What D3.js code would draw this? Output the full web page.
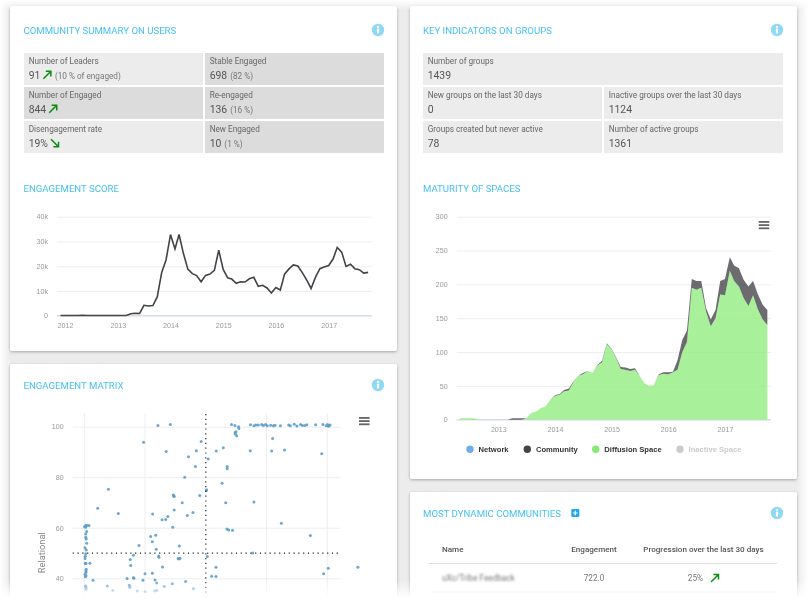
<!DOCTYPE html>
<html>
<head>
<meta charset="utf-8">
<script src="https://cdnjs.cloudflare.com/ajax/libs/d3/7.8.5/d3.min.js"></script>
<style>
  html, body { margin: 0; padding: 0; background: #fff; overflow: hidden; }
  svg { display: block; filter: blur(0.4px); font-family: Roboto, sans-serif; }
  .title { fill: #45c1f5; font-size: 9.6px; }
  .cell-label { fill: #666; font-size: 8.2px; }
  .cell-value { fill: #555; font-size: 10.4px; }
  .cell-note { fill: #777; font-size: 8.2px; }
  .axis text { fill: #999; font-size: 7.1px; font-family: "Liberation Sans", sans-serif; }
  .axis .domain { display: none; }
  .grid line { stroke: #eeeeee; stroke-width: 1; }
  .legend text { font-size: 7.6px; font-weight: bold; font-family: "Liberation Sans", sans-serif; }
  .head { fill: #555; font-size: 8.1px; font-weight: 500; }
  .row { fill: #777; font-size: 8.2px; }
</style>
</head>
<body>
<div id="chart"></div>
<script>
// stat tables
var userLabels = ['Number of Leaders', 'Stable Engaged', 'Number of Engaged', 'Re-engaged', 'Disengagement rate', 'New Engaged'];
var userValues = ['91', '698', '844', '136', '19%', '10'];
var userNotes = ['(10 % of engaged)', '(82 %)', '', '(16 %)', '', '(1 %)'];
var userTrends = ['up', '', 'up', '', 'down', ''];

var groupLabels = ['New groups on the last 30 days', 'Inactive groups over the last 30 days', 'Groups created but never active', 'Number of active groups'];
var groupValues = ['0', '1124', '78', '1361'];
var groupTotalLabel = 'Number of groups';
var groupTotalValue = '1439';

// engagement score, monthly from Dec 2011
var engagementScore = [
  0.1,
  0.1, 0.1, 0.1, 0.1, 0.15, 0.1, 0.1, 0.1, 0.1, 0.1, 0.1, 0.1,
  0.1, 0.1, 0.1, 0.8, 1.0, 0.9, 4.2, 3.9, 4.1, 7.6, 17.5, 22.5,
  32.8, 27, 32.8, 25, 18.8, 17, 16.2, 13.7, 16.3, 16.8, 18.3, 26.5,
  18.7, 15.3, 14.8, 13.1, 13.7, 13.6, 14.9, 15.5, 11.9, 12.3, 11.2, 9.2,
  11.4, 10.4, 16.8, 18.9, 20.5, 20.1, 17.5, 14.5, 11, 15.5, 19, 19.7,
  20.3, 23, 27.6, 25.7, 19.9, 20.8, 19, 18.6, 17.2, 17.5
];
var engagementTicks = [0, 10000, 20000, 30000, 40000];

// maturity of spaces, monthly from May 2012
var diffusionSpaces = [
  2, 2, 2, 2, 0, 0, 0, 0,
  0, 0, 0, 0, 0, 0, 2, 10, 12, 17, 20, 29,
  35, 37, 42, 43, 56, 65, 67, 72, 69, 80, 85, 112,
  104, 90, 75, 74, 72, 74, 65, 54, 50, 51, 66, 68,
  67, 70, 74, 100, 115, 195, 192, 195, 160, 138, 150, 185,
  184, 220, 205, 197, 180, 168, 184, 163, 148, 140
];
var communitySpaces = [
  0, 0, 0, 0, 0, 0, 0, 0,
  0, 0, 0, 2, 2, 2, 0, 0, 0, 0, 0, 0,
  1, 1, 2, 3, 1, 0, 2, 0, 0, 1, 2, 1,
  1, 1, 3, 3, 3, 2, 0, 0, 0, 0, 1, 2,
  3, 1, 14, 18, 17, 13, 13, 10, 5, 10, 12, 20,
  24, 20, 23, 27, 27, 29, 21, 22, 22, 22
];
var networkSpaces = [
  0, 0, 0, 0, 0, 0, 0, 0,
  0, 0, 0, 0, 0, 0, 0, 0, 0, 0, 0, 0,
  0, 0, 0, 0, 0, 0, 0, 0, 0, 0, 0, 0,
  0, 0, 0, 0, 0, 0, 0, 0, 0, 0, 0, 0,
  0, 0, 0, 0, 0, 0, 0, 0, 0, 0, 0, 0,
  0, 0, 0, 0, 0, 0, 1, 1, 0, 0
];
var maturityTicks = [0, 50, 100, 150, 200, 250, 300];
var legendNames = ['Network', 'Community', 'Diffusion Space', 'Inactive Space'];

// engagement matrix
var matrixX = [
  30.3, 35.4, 24.4, 33.7, 48.1, 46.1, 42.9, 45.7, 41.3, 9.9, 5.5, 14, 36.8, 36.6, 37, 47.5, 40.3, 37, 28.1, 34.4,
  32, 33.5, 42.4, 44.7, 36.4, 27.3, 29.4, 28, 22.5, 39.1, 29.6, 20.2, 18.9, 19.1, 30.6, 30.7, 38.6, 39, 39.4, 32.2,
  25, 28, 17.6, 20.4, 20.2, 24.1, 29.1, 29.8, 36.2, 41.7, 32.9, 3.6, 9.5, 18.5, 18.8, 18.6, 11.7, 21.8, 25, 29, 29.8, 44.9,
  0.1, 0.6, 1.1, 1.9, 0.5, 1.0, 0.6, 0.6, 0.8, 1.0, 0.3, 0.8, 0.6, 0.4, 0.3, 0.7, 0.4, 2.3, 0.8, 0.7, 0.7, 0.3, 0.7, 0.4, 0.5, 0.7, 0.7,
  51, 54.3, 57.2, 68.3, 77.1, 82.4, 97.7, 77.5, 58.8, 58.8, 56.7, 50.3, 50.2, 58.2, 69.8, 81.1, 58.7, 59.4, 61, 93, 69.3, 50.6, 54.2, 52.4, 54.2, 98.5, 100.4, 112.6,
  60.6, 62, 63.5, 63.6, 62.1, 62.4, 62.1, 62.7,
  68.4, 69.8, 70.6, 71.6, 73, 73.7, 74.6, 75.3, 76.7, 77.8, 78.5, 80.7, 84.1, 84.8, 86.4, 87.5, 89, 89.8, 90.8, 91.6, 95.2, 98.2, 99.5, 100.1, 100.7, 101.1, 100.4
];
var matrixY = [
  100.5, 100.9, 93.8, 90.2, 94.1, 90.5, 88.1, 84.2, 80, 75.2, 67.7, 65.6, 72.7, 73, 72.4, 72.8, 69.9, 67, 65.4, 64.5,
  63.2, 63.3, 64.9, 66, 60.2, 56.5, 57, 54.5, 53, 52.8, 51.5, 49.1, 47.4, 45.1, 48.8, 48.3, 47.8, 47.6, 47.9, 44.5,
  41.8, 42, 39.9, 40, 40.2, 39.2, 39.3, 38.1, 37.8, 38.7, 36.8, 39.2, 37, 37.2, 36.4, 36.8, 35.2, 35, 34.7, 35, 35.2, 35.9,
  60.4, 60.9, 60.9, 60.9, 60.2, 58.5, 57.5, 56.2, 55.6, 53.9, 52.1, 51.2, 49.7, 48.7, 47.8, 45.9, 46, 46, 43.6, 42.9, 42.3, 41.6, 41, 40.6, 37, 36.5, 35.7,
  87.2, 90.4, 91.7, 90.5, 90.4, 90.8, 89.3, 95.3, 84.2, 83.4, 77.6, 75, 74.7, 69.9, 70.2, 61.8, 59.5, 59.1, 59, 56.9, 50, 48.6, 44.4, 40.8, 40.7, 41.8, 44, 44.4,
  100.9, 100.5, 100, 99.3, 97.6, 98, 97.1, 96.4,
  100.8, 100.4, 100.7, 100.7, 100.9, 100.5, 100.9, 100.4, 100.6, 100.4, 100.6, 100.4, 100.7, 100.4, 101, 100.3, 100.9, 100.5, 100.5, 100.8, 100.8, 100.9, 100.4, 100.9, 100.3, 100.7, 100.3
];
var matrixTicksY = [40, 60, 80, 100];
var matrixTicksX = [0, 25, 75, 100];

// most dynamic communities
var tableHeads = ['Name', 'Engagement', 'Progression over the last 30 days'];
var tableName = 'uXc/Tribe Feedback';
var tableEngagement = '722.0';
var tableProgress = '25%';

var svg = d3.select('#chart').append('svg').attr('width', 808).attr('height', 602);
var defs = svg.append('defs');

defs.append('filter').attr('id', 'shadow').attr('x', '-5%').attr('y', '-5%').attr('width', '110%').attr('height', '110%')
  .append('feDropShadow').attr('dx', 0).attr('dy', 1).attr('stdDeviation', 1.6).attr('flood-color', '#000').attr('flood-opacity', 0.3);
defs.append('filter').attr('id', 'smudge').append('feGaussianBlur').attr('stdDeviation', 1.3);

function fade(id, x1, y1, x2, y2) {
  var g = defs.append('linearGradient').attr('id', id).attr('x1', x1).attr('y1', y1).attr('x2', x2).attr('y2', y2);
  g.append('stop').attr('offset', 0).attr('stop-color', '#fff').attr('stop-opacity', 1);
  g.append('stop').attr('offset', 1).attr('stop-color', '#fff').attr('stop-opacity', 0);
}
fade('fadeLeft', 0, 0, 1, 0);
fade('fadeRight', 1, 0, 0, 0);
fade('fadeTop', 0, 0, 0, 1);
fade('fadeBottom', 0, 1, 0, 0);

svg.append('rect').attr('width', 808).attr('height', 602).attr('fill', '#ececec');

// cards
[[10, 6, 387, 345], [10, 364, 387, 260], [410, 6, 387, 473], [410, 492, 387, 130]].forEach(function(c) {
  svg.append('rect').attr('x', c[0]).attr('y', c[1]).attr('width', c[2]).attr('height', c[3])
    .attr('rx', 2).attr('fill', '#fff').attr('filter', 'url(#shadow)');
});

function title(text, x, y) {
  svg.append('text').attr('class', 'title').attr('x', x).attr('y', y + 3.6).text(text);
}
function infoIcon(x, y) {
  svg.append('circle').attr('cx', x).attr('cy', y).attr('r', 6.2).attr('fill', '#8fd8f6');
  svg.append('rect').attr('x', x - 1.1).attr('y', y - 1.2).attr('width', 2.2).attr('height', 4.6).attr('fill', '#fff');
  svg.append('circle').attr('cx', x).attr('cy', y - 3).attr('r', 1.2).attr('fill', '#fff');
}
function burger(x, y) {
  d3.range(3).forEach(function(i) {
    svg.append('rect').attr('x', x).attr('y', y + i * 3.2).attr('width', 10.6).attr('height', 1.8).attr('fill', '#666');
  });
}
function arrow(parent, x, y, dir) {
  // y is the text baseline
  var d = dir === 'up' ? 'M0,0 L7.5,-7.5 M2.4,-7.5 H7.5 V-2.4' : 'M0,-7.5 L7.5,0 M2.4,0 H7.5 V-5.1';
  parent.append('path').attr('transform', 'translate(' + x + ',' + y + ')').attr('d', d)
    .attr('fill', 'none').attr('stroke', '#0b8a12').attr('stroke-width', 1.5);
}

title('COMMUNITY SUMMARY ON USERS', 23.5, 30);
title('ENGAGEMENT SCORE', 23.5, 188);
title('ENGAGEMENT MATRIX', 23.5, 385);
title('KEY INDICATORS ON GROUPS', 423, 30);
title('MATURITY OF SPACES', 423, 188);
title('MOST DYNAMIC COMMUNITIES', 423, 513);
[[378, 30], [378, 385], [777, 30], [777, 513]].forEach(function(p) { infoIcon(p[0], p[1]); });

// stat cells
function statCell(x, y, w, h, fill, label, value, note, trend) {
  var g = svg.append('g').attr('transform', 'translate(' + x + ',' + y + ')');
  g.append('rect').attr('width', w).attr('height', h).attr('fill', fill);
  g.append('text').attr('class', 'cell-label').attr('x', 4.7).attr('y', 11.3).text(label);
  var v = g.append('text').attr('class', 'cell-value').attr('x', 4.7).attr('y', 26.3).text(value);
  var cursor = 4.7 + v.node().getComputedTextLength() + 3;
  if (trend) {
    arrow(g, cursor, 25.8, trend);
    cursor += 11.5;
  }
  if (note) {
    g.append('text').attr('class', 'cell-note').attr('x', cursor).attr('y', 26.3).text(note);
  }
}

var rowBand = d3.scaleBand().domain([0, 1, 2]).range([53, 153]).paddingInner(0.06);
var userCol = d3.scaleBand().domain([0, 1]).range([24, 384]).paddingInner(0.011);
var groupCol = d3.scaleBand().domain([0, 1]).range([423, 783]).paddingInner(0.011);

userLabels.forEach(function(label, i) {
  var light = i === 0 || i === 4;
  statCell(userCol(i % 2), rowBand(Math.floor(i / 2)), userCol.bandwidth(), rowBand.bandwidth(),
    light ? '#ececec' : '#dcdcdc', label, userValues[i], userNotes[i], userTrends[i]);
});
statCell(423, rowBand(0), 360, rowBand.bandwidth(), '#ececec', groupTotalLabel, groupTotalValue, '', '');
groupLabels.forEach(function(label, i) {
  statCell(groupCol(i % 2), rowBand(Math.floor(i / 2) + 1), groupCol.bandwidth(), rowBand.bandwidth(),
    '#ececec', label, groupValues[i], '', '');
});

function gridAxis(yScale, ticks, left, right, format) {
  var g = svg.append('g').attr('class', 'axis grid').attr('transform', 'translate(' + left + ',0)')
    .call(d3.axisLeft(yScale).tickValues(ticks).tickSize(left - right).tickPadding(9).tickFormat(format));
  return g;
}
function yearAxis(xScale, years, y) {
  svg.append('g').attr('class', 'axis').attr('transform', 'translate(0,' + y + ')')
    .call(d3.axisBottom(xScale).tickValues(years.map(function(d) { return new Date(Date.UTC(d, 0, 1)); }))
      .tickSize(0).tickPadding(7).tickFormat(d3.utcFormat('%Y')));
}
function baseLine(left, right, y) {
  svg.append('line').attr('x1', left).attr('x2', right).attr('y1', y).attr('y2', y).attr('stroke', '#ccd6eb');
}

// engagement score
var scoreMonths = d3.utcMonth.range(new Date(Date.UTC(2011, 11, 1)), new Date(Date.UTC(2017, 10, 1)));
var scoreX = d3.scaleUtc().domain([new Date(Date.UTC(2012, 0, 1)), new Date(Date.UTC(2017, 0, 1))]).range([65, 328.7]);
var scoreY = d3.scaleLinear().domain([0, 40000]).range([315.7, 216.7]);

gridAxis(scoreY, engagementTicks, 57, 372, function(d) { return d ? d / 1000 + 'k' : '0'; });
baseLine(57, 372, 315.7);
yearAxis(scoreX, [2012, 2013, 2014, 2015, 2016, 2017], 315.7);

svg.append('path')
  .datum(engagementScore)
  .attr('d', d3.line()
    .x(function(d, i) { return scoreX(scoreMonths[i]); })
    .y(function(d) { return scoreY(d * 1000); }))
  .attr('fill', 'none').attr('stroke', '#434348').attr('stroke-width', 1.6);

// maturity of spaces
var spaceMonths = d3.utcMonth.range(new Date(Date.UTC(2012, 4, 1)), new Date(Date.UTC(2017, 10, 1)));
var spaceX = d3.scaleUtc().domain([new Date(Date.UTC(2013, 0, 1)), new Date(Date.UTC(2017, 0, 1))]).range([498.3, 725]);
var spaceY = d3.scaleLinear().domain([0, 300]).range([419.7, 216.7]);

gridAxis(spaceY, maturityTicks, 456.7, 771, function(d) { return d; });
baseLine(456.7, 771, 419.7);
yearAxis(spaceX, [2013, 2014, 2015, 2016, 2017], 419.7);

var spaceRows = spaceMonths.map(function(m, i) {
  return { month: m, diffusion: diffusionSpaces[i], community: communitySpaces[i], network: networkSpaces[i] };
});
var spaceColors = { network: '#7cb5ec', community: '#434348', diffusion: '#90ed7d' };
var stacked = d3.stack().keys(['diffusion', 'community', 'network'])(spaceRows);

svg.append('g').selectAll('path')
  .data(stacked)
  .enter().append('path')
  .attr('d', d3.area()
    .x(function(d) { return spaceX(d.data.month); })
    .y0(function(d) { return spaceY(d[0]); })
    .y1(function(d) { return spaceY(d[1]); }))
  .attr('fill', function(d) { return spaceColors[d.key]; })
  .attr('fill-opacity', 0.78);

burger(758.7, 221);

// legend
var legendX = d3.scaleOrdinal().domain(legendNames).range([470, 527.3, 595.7, 680]);
var legendColors = d3.scaleOrdinal().domain(legendNames).range(['#6fadec', '#434348', '#86e973', '#cccccc']);
var legend = svg.append('g').attr('class', 'legend').selectAll('g')
  .data(legendNames).enter().append('g')
  .attr('transform', function(d) { return 'translate(' + legendX(d) + ',449.3)'; });
legend.append('circle').attr('r', 3.7).attr('fill', function(d) { return legendColors(d); });
legend.append('text').attr('x', 8.6).attr('y', 2.8)
  .attr('fill', function(d, i) { return i === 3 ? '#ccc' : '#333'; })
  .text(function(d) { return d; });

// engagement matrix
var matX = d3.scaleLinear().domain([0, 100]).range([84.3, 327.3]);
var matY = d3.scaleLinear().domain([40, 100]).range([578.3, 426.7]);

gridAxis(matY, matrixTicksY, 72.7, 340, function(d) { return d; });
svg.append('g').attr('class', 'grid').selectAll('line')
  .data(matrixTicksX).enter().append('line')
  .attr('x1', function(d) { return matX(d); }).attr('x2', function(d) { return matX(d); })
  .attr('y1', 413).attr('y2', 602);

svg.append('g').selectAll('circle')
  .data(matrixX).enter().append('circle')
  .attr('cx', function(d) { return matX(d); })
  .attr('cy', function(d, i) { return matY(matrixY[i]); })
  .attr('r', 1.5).attr('fill', '#5c9dca').attr('fill-opacity', 0.9);

svg.append('line').attr('x1', matX(50)).attr('x2', matX(50)).attr('y1', 414).attr('y2', 602)
  .attr('stroke', '#222').attr('stroke-width', 1.2).attr('stroke-dasharray', '1.2 3.6');
svg.append('line').attr('x1', 72.7).attr('x2', 340).attr('y1', matY(50)).attr('y2', matY(50))
  .attr('stroke', '#222').attr('stroke-width', 1.2).attr('stroke-dasharray', '1.2 3.6');

svg.append('text').attr('transform', 'translate(45,552.7) rotate(-90)').attr('text-anchor', 'middle')
  .attr('fill', '#888').attr('font-size', 9.3).text('Relational');
burger(359, 417);

// most dynamic communities
svg.append('rect').attr('x', 571.3).attr('y', 509).attr('width', 8).attr('height', 8).attr('rx', 1.2).attr('fill', '#1fa9f0');
svg.append('path').attr('d', 'M575.3,510.8 V515.2 M573.1,513 H577.5').attr('stroke', '#fff').attr('stroke-width', 1.2);

var tableCols = d3.scaleOrdinal().domain(tableHeads).range([442, 594, 703.5]);
svg.append('g').selectAll('text').data(tableHeads).enter().append('text')
  .attr('class', 'head')
  .attr('x', function(d) { return tableCols(d); })
  .attr('y', 552)
  .attr('text-anchor', function(d, i) { return i ? 'middle' : 'start'; })
  .text(function(d) { return d; });

svg.append('line').attr('x1', 429).attr('x2', 777).attr('y1', 563.5).attr('y2', 563.5).attr('stroke', '#ddd');
svg.append('line').attr('x1', 429).attr('x2', 777).attr('y1', 592).attr('y2', 592).attr('stroke', '#e8e8e8');

svg.append('text').attr('class', 'row').attr('x', 442).attr('y', 581).attr('filter', 'url(#smudge)').text(tableName);
svg.append('text').attr('class', 'row').attr('x', 594).attr('y', 581).attr('text-anchor', 'middle').text(tableEngagement);
svg.append('text').attr('class', 'row').attr('x', 703).attr('y', 581).attr('text-anchor', 'end').text(tableProgress);
arrow(svg, 711, 582, 'up');

// page edges fade out to white
svg.append('rect').attr('x', 0).attr('y', 0).attr('width', 10).attr('height', 602).attr('fill', 'url(#fadeLeft)');
svg.append('rect').attr('x', 797).attr('y', 0).attr('width', 11).attr('height', 602).attr('fill', 'url(#fadeRight)');
svg.append('rect').attr('x', 0).attr('y', 0).attr('width', 808).attr('height', 10).attr('fill', 'url(#fadeTop)');
svg.append('rect').attr('x', 0).attr('y', 580).attr('width', 808).attr('height', 18).attr('fill', 'url(#fadeBottom)');
svg.append('rect').attr('x', 0).attr('y', 598).attr('width', 808).attr('height', 4).attr('fill', '#fff');
</script>
</body>
</html>
